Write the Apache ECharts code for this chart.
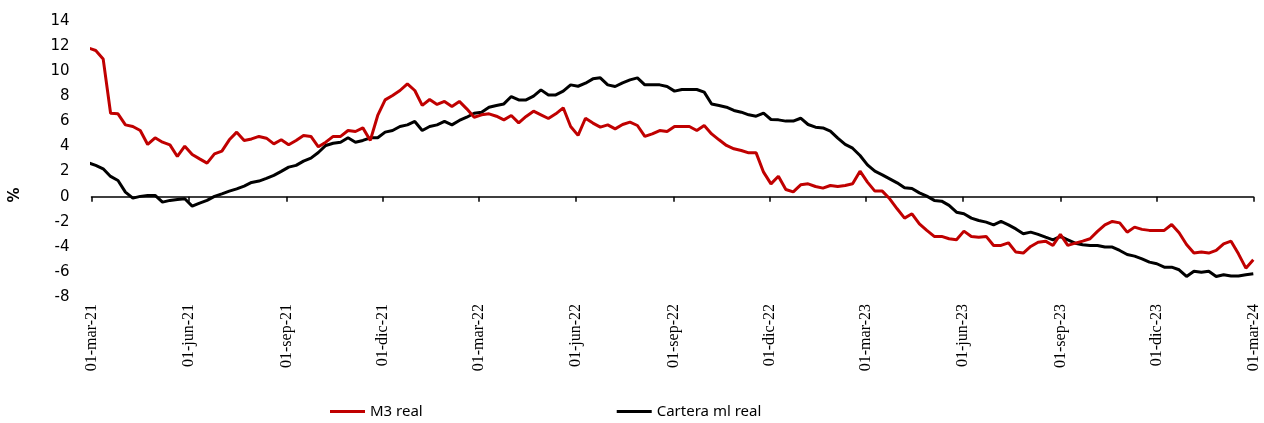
<!DOCTYPE html>
<html>
<head>
<meta charset="utf-8">
<script src="https://cdn.jsdelivr.net/npm/echarts@6/dist/echarts.min.js"></script>
<style>
  html, body { margin: 0; padding: 0; background: #fff; }
  #chart { width: 1264px; height: 423px; }
</style>
</head>
<body>
<div id="chart"></div>
<script>
// Weekly observations (Fridays), first one on 26-feb-2021
const firstWeek = Date.UTC(2021, 1, 26);
const weekCount = 158;

// M3 real, annual % change
const m3Real = [
  11.85, 11.65, 10.98, 6.65, 6.6, 5.72, 5.59, 5.27, 4.16, 4.69,
  4.34, 4.13, 3.2, 4.02, 3.36, 3.01, 2.67, 3.41, 3.63, 4.53,
  5.14, 4.48, 4.6, 4.8, 4.66, 4.21, 4.53, 4.13, 4.48, 4.88,
  4.8, 3.97, 4.34, 4.8, 4.8, 5.27, 5.19, 5.48, 4.48, 6.47,
  7.71, 8.06, 8.46, 8.99, 8.46, 7.27, 7.74, 7.35, 7.59, 7.19,
  7.59, 7.0, 6.33, 6.52, 6.6, 6.41, 6.12, 6.47, 5.88, 6.39,
  6.81, 6.52, 6.23, 6.6, 7.08, 5.59, 4.88, 6.25, 5.86, 5.54,
  5.72, 5.4, 5.75, 5.94, 5.67, 4.8, 5.0, 5.27, 5.19, 5.59,
  5.59, 5.59, 5.27, 5.67, 5.0, 4.53, 4.08, 3.81, 3.68, 3.49,
  3.49, 1.95, 1.02, 1.63, 0.57, 0.38, 0.94, 1.02, 0.81, 0.68,
  0.89, 0.81, 0.89, 1.02, 2.03, 1.16, 0.44, 0.44, -0.17, -0.97,
  -1.71, -1.37, -2.17, -2.69, -3.17, -3.17, -3.36, -3.44, -2.75, -3.17,
  -3.23, -3.17, -3.89, -3.89, -3.68, -4.42, -4.5, -3.97, -3.63, -3.55,
  -3.89, -3.01, -3.89, -3.71, -3.55, -3.36, -2.77, -2.25, -1.98, -2.09,
  -2.83, -2.43, -2.61, -2.69, -2.69, -2.69, -2.22, -2.88, -3.81, -4.5,
  -4.42, -4.5, -4.29, -3.76, -3.55, -4.56, -5.7, -5.04
];

// Cartera ml real, annual % change
const carteraReal = [
  2.7, 2.49, 2.22, 1.61, 1.29, 0.36, -0.12, 0.02, 0.1, 0.1,
  -0.44, -0.3, -0.23, -0.17, -0.76, -0.52, -0.3, 0.02, 0.22, 0.44,
  0.62, 0.84, 1.13, 1.24, 1.45, 1.69, 2.01, 2.35, 2.49, 2.83,
  3.07, 3.52, 4.08, 4.26, 4.34, 4.69, 4.34, 4.48, 4.69, 4.69,
  5.14, 5.27, 5.59, 5.72, 5.99, 5.27, 5.59, 5.72, 5.99, 5.72,
  6.07, 6.33, 6.65, 6.73, 7.13, 7.27, 7.39, 7.98, 7.71, 7.71,
  8.01, 8.51, 8.11, 8.11, 8.41, 8.91, 8.8, 9.04, 9.39, 9.47,
  8.91, 8.78, 9.07, 9.31, 9.47, 8.91, 8.91, 8.91, 8.78, 8.41,
  8.54, 8.54, 8.54, 8.33, 7.39, 7.27, 7.13, 6.87, 6.73, 6.52,
  6.41, 6.65, 6.15, 6.12, 6.02, 6.02, 6.25, 5.75, 5.54, 5.48,
  5.22, 4.66, 4.16, 3.86, 3.28, 2.53, 2.03, 1.74, 1.42, 1.1,
  0.7, 0.65, 0.3, 0.04, -0.3, -0.36, -0.7, -1.24, -1.37, -1.71,
  -1.9, -2.03, -2.25, -1.98, -2.25, -2.57, -2.96, -2.83, -3.01, -3.23,
  -3.44, -3.17, -3.44, -3.71, -3.84, -3.89, -3.89, -4.02, -4.02, -4.29,
  -4.61, -4.74, -4.96, -5.22, -5.35, -5.62, -5.62, -5.83, -6.36, -5.94,
  -6.02, -5.94, -6.36, -6.23, -6.33, -6.33, -6.23, -6.15
];

// Quarterly axis marks, 01-mar-21 ... 01-mar-24
const tickDates = [
  [2021, 2], [2021, 5], [2021, 8], [2021, 11],
  [2022, 2], [2022, 5], [2022, 8], [2022, 11],
  [2023, 2], [2023, 5], [2023, 8], [2023, 11],
  [2024, 2]
];
const monthNames = ['ene', 'feb', 'mar', 'abr', 'may', 'jun', 'jul', 'ago', 'sep', 'oct', 'nov', 'dic'];

const yTicks = { min: -8, max: 14, step: 2 };

const DAY = 86400000;
const weeks = [];
for (let i = 0; i < weekCount; i++) weeks.push(firstWeek + i * 7 * DAY);

const tickValues = tickDates.map(d => Date.UTC(d[0], d[1], 1));
const xMin = tickValues[0];
const xMax = tickValues[tickValues.length - 1];

function fmtDate(v) {
  const d = new Date(v);
  const yy = String(d.getUTCFullYear()).slice(2);
  const dd = String(d.getUTCDate()).padStart(2, '0');
  return dd + '-' + monthNames[d.getUTCMonth()] + '-' + yy;
}

const pairs = arr => arr.map((v, i) => [weeks[i], v]);

const chart = echarts.init(document.getElementById('chart'), null, { renderer: 'canvas' });

chart.setOption({
  animation: false,
  backgroundColor: '#ffffff',
  grid: { left: 91.5, right: 10.7, top: 21, bottom: 126, containLabel: false },
  legend: {
    left: 330,
    top: 404,
    padding: 0,
    itemWidth: 35,
    itemHeight: 3,
    itemGap: 194,
    icon: 'rect',
    textStyle: { fontFamily: 'Noto Sans', fontSize: 15, color: '#000' },
    data: ['M3 real', 'Cartera ml real']
  },
  graphic: [
    {
      // y-axis unit, level with zero
      type: 'text',
      x: 15,
      y: 195,
      rotation: Math.PI / 2,
      style: {
        text: '%',
        fontFamily: 'DejaVu Sans',
        fontSize: 15,
        fontWeight: 'bold',
        fill: '#000',
        align: 'center',
        verticalAlign: 'middle'
      }
    }
  ],
  xAxis: [
    {
      // date labels along the bottom
      type: 'value',
      min: xMin,
      max: xMax,
      position: 'bottom',
      axisLine: { show: false, onZero: false },
      axisTick: { show: false },
      splitLine: { show: false },
      axisLabel: {
        customValues: tickValues,
        rotate: 90,
        margin: 7,
        fontFamily: 'Liberation Sans Narrow',
        fontSize: 16,
        color: '#000',
        formatter: fmtDate
      }
    },
    {
      // axis line and ticks crossing at zero
      type: 'value',
      min: xMin,
      max: xMax,
      position: 'bottom',
      axisLine: { show: true, onZero: true, lineStyle: { color: '#000', width: 1.5 } },
      axisTick: { show: true, customValues: tickValues, length: 5, lineStyle: { color: '#000', width: 1.5 } },
      axisLabel: { show: false },
      splitLine: { show: false }
    }
  ],
  yAxis: {
    type: 'value',
    min: yTicks.min,
    max: yTicks.max,
    interval: yTicks.step,
    axisLine: { show: false },
    axisTick: { show: false },
    splitLine: { show: false },
    axisLabel: { fontFamily: 'DejaVu Sans', fontSize: 15, color: '#000', margin: 22 }
  },
  series: [
    {
      name: 'M3 real',
      type: 'line',
      xAxisIndex: 0,
      data: pairs(m3Real),
      symbol: 'none',
      clip: true,
      lineStyle: { color: '#C00000', width: 3 },
      itemStyle: { color: '#C00000' },
      z: 3
    },
    {
      name: 'Cartera ml real',
      type: 'line',
      xAxisIndex: 0,
      data: pairs(carteraReal),
      symbol: 'none',
      clip: true,
      lineStyle: { color: '#000000', width: 3 },
      itemStyle: { color: '#000000' },
      z: 2
    }
  ]
});
</script>
</body>
</html>
